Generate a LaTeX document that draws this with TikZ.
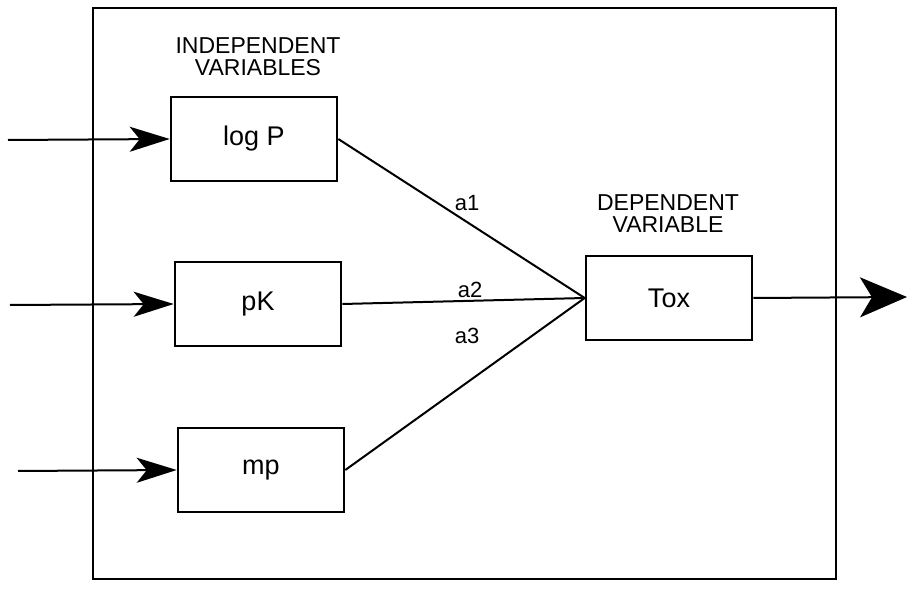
\documentclass[tikz,border=0pt]{standalone}
\usepackage{fontspec}
\setmainfont{Liberation Sans}
\usetikzlibrary{arrows.meta}
\begin{document}
\begin{tikzpicture}[x=1pt,y=-1pt,
  varbox/.style={draw,line width=2.6pt,minimum width=166pt,minimum height=84pt,inner sep=0pt,font=\fontsize{27}{27}\selectfont},
  head/.style={align=center,font=\fontsize{23}{23}\selectfont},
  coef/.style={font=\fontsize{22}{22}\selectfont},
  conn/.style={line width=2pt},
  tip/.style={-{Stealth[length=40pt,width=25pt,inset=10pt]}},
  bigtip/.style={-{Stealth[length=47pt,width=40pt,inset=12pt]}}
]
\useasboundingbox (0,0) rectangle (908,593);
\draw[line width=2pt] (93,8) rectangle (836,579);
\node[varbox] (logp) at (254,139) {log P};
\node[varbox] (pk) at (258,304) {pK};
\node[varbox] (mp) at (261,470) {mp};
\node[varbox] (tox) at (669,298) {Tox};
\coordinate (inA) at (8,140);
\coordinate (inB) at (10,305);
\coordinate (inC) at (18,471);
\coordinate (out) at (907,297);
\draw[conn,tip] (inA) -- (logp.west);
\draw[conn,tip] (inB) -- (pk.west);
\draw[conn,tip] (inC) -- (mp.west);
\draw[conn,bigtip] (tox.east) -- (out);
\draw[conn] (logp.east) -- (tox.west);
\draw[conn] (pk.east) -- (tox.west);
\draw[conn] (mp.east) -- (tox.west);
\node[head] (indep) at (258,57) {INDEPENDENT\\[-1pt]VARIABLES};
\node[head] (dep) at (668,214) {DEPENDENT\\[-1pt]VARIABLE};
\node[coef] (a1) at (467,203) {a1};
\node[coef] (a2) at (470,290) {a2};
\node[coef] (a3) at (467,336) {a3};
\end{tikzpicture}
\end{document}
